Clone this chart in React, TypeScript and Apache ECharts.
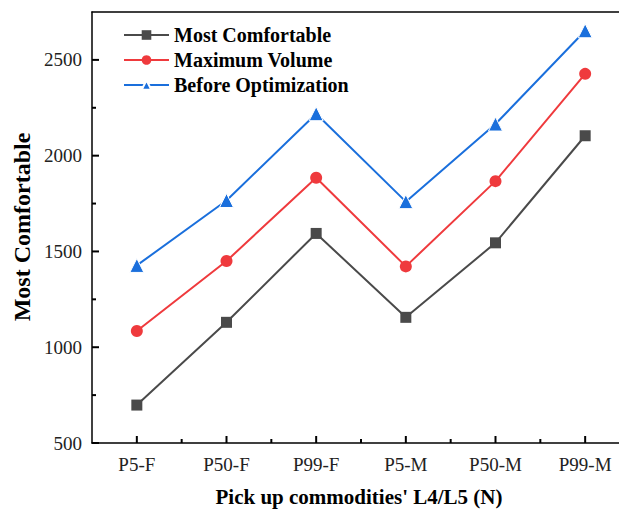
import React, { useEffect, useRef } from "react";
import * as echarts from "echarts";

const categories = ["P5-F", "P50-F", "P99-F", "P5-M", "P50-M", "P99-M"];
const mostComfortable = [698, 1130, 1594, 1156, 1545, 2104];
const maximumVolume = [1085, 1450, 1885, 1422, 1867, 2427];
const beforeOptimization = [1427, 1766, 2219, 1760, 2165, 2652];
const seriesNames = ["Most Comfortable", "Maximum Volume", "Before Optimization"];
const xTitle = "Pick up commodities' L4/L5 (N)";
const yTitle = "Most Comfortable";
const yMajorTicks = [500, 1000, 1500, 2000, 2500];
const yMinorTicks = [750, 1250, 1750, 2250];
const xMajorTicks = [0, 1, 2, 3, 4, 5];
const xBoundaryTicks = [1, 2, 3, 4, 5];

const FONT = "'Liberation Serif', 'Times New Roman', serif";

export default function App() {
  const ref = useRef<HTMLDivElement>(null);
  useEffect(() => {
    document.body.style.margin = "0";
    if (!ref.current) return;
    const chart = echarts.init(ref.current, undefined, { renderer: "svg" });
    const tickStyle = { stroke: "#000", lineWidth: 2 };
    chart.setOption({
      animation: false,
      grid: { left: 92, top: 12, right: 0, bottom: 71 },
      legend: {
        orient: "vertical",
        left: 118,
        top: 20,
        itemWidth: 45,
        itemHeight: 12,
        itemGap: 5,
        textStyle: { fontFamily: FONT, fontWeight: "bold", fontSize: 20, lineHeight: 20, color: "#000" },
        data: seriesNames,
      },
      graphic: [
        {
          type: "text",
          x: 22,
          y: 227,
          rotation: Math.PI / 2,
          style: {
            text: yTitle,
            fontFamily: FONT,
            fontWeight: "bold",
            fontSize: 24,
            fill: "#000",
            textAlign: "center",
            textVerticalAlign: "middle",
          },
        },
        {
          type: "text",
          x: 359,
          y: 497,
          style: {
            text: xTitle,
            fontFamily: FONT,
            fontWeight: "bold",
            fontSize: 21,
            fill: "#000",
            textAlign: "center",
            textVerticalAlign: "middle",
          },
        },
      ],
      xAxis: [
        {
          type: "category",
          data: categories,
          axisLine: { show: true, lineStyle: { color: "#000", width: 1.5 } },
          axisTick: { show: false },
          axisLabel: { fontFamily: FONT, fontSize: 19, color: "#222", margin: 12 },
        },
        {
          type: "category",
          data: categories,
          position: "top",
          axisLine: { show: true, lineStyle: { color: "#000", width: 1.5 } },
          axisTick: { show: false },
          axisLabel: { show: false },
        },
      ],
      yAxis: [
        {
          type: "value",
          min: 500,
          max: 2750,
          interval: 500,
          axisLine: { show: true, lineStyle: { color: "#000", width: 1.5 } },
          axisTick: { show: false },
          axisLabel: {
            fontFamily: FONT,
            fontSize: 19,
            color: "#222",
            margin: 10,
            showMaxLabel: false,
            formatter: (v: number) => String(v),
          },
          splitLine: { lineStyle: { opacity: 0 } },
        },
      ],
      series: [
        {
          type: "line",
          name: seriesNames[0],
          data: mostComfortable,
          symbol: "rect",
          symbolSize: 11,
          itemStyle: { color: "#4a4a4a" },
          lineStyle: { width: 2, color: "#4a4a4a" },
        },
        {
          type: "line",
          name: seriesNames[1],
          data: maximumVolume,
          symbol: "circle",
          symbolSize: 12,
          itemStyle: { color: "#ef3a3d" },
          lineStyle: { width: 2, color: "#ef3a3d" },
        },
        {
          type: "line",
          name: seriesNames[2],
          data: beforeOptimization,
          symbol: "triangle",
          symbolSize: 14,
          itemStyle: { color: "#1a6fdc", borderColor: "#fff", borderWidth: 1 },
          lineStyle: { width: 2, color: "#1a6fdc" },
        },
        {
          type: "custom",
          name: "yTicks",
          silent: true,
          clip: false,
          z: 5,
          data: [
            ...yMajorTicks.map((v) => [0, v, 7]),
            ...yMinorTicks.map((v) => [0, v, 4]),
          ],
          renderItem: (params: any, api: any) => {
            const cs = params.coordSys;
            const y = api.coord([0, api.value(1)])[1];
            return {
              type: "line",
              shape: { x1: cs.x, y1: y, x2: cs.x + api.value(2), y2: y },
              style: tickStyle,
            };
          },
        },
        {
          type: "custom",
          name: "xTicks",
          silent: true,
          clip: false,
          z: 5,
          data: xMajorTicks.map((i) => [i, 500, 7]),
          renderItem: (params: any, api: any) => {
            const cs = params.coordSys;
            const x = api.coord([api.value(0), 500])[0];
            const yb = cs.y + cs.height;
            return {
              type: "line",
              shape: { x1: x, y1: yb, x2: x, y2: yb - api.value(2) },
              style: tickStyle,
            };
          },
        },
        {
          type: "custom",
          name: "xBoundaryTicks",
          silent: true,
          clip: false,
          z: 5,
          data: xBoundaryTicks.map((i) => [i, 500, 4]),
          renderItem: (params: any, api: any) => {
            const cs = params.coordSys;
            const k = api.value(0);
            const x = (api.coord([k - 1, 500])[0] + api.coord([k, 500])[0]) / 2;
            const yb = cs.y + cs.height;
            return {
              type: "line",
              shape: { x1: x, y1: yb, x2: x, y2: yb - api.value(2) },
              style: tickStyle,
            };
          },
        },
      ],
    });
    return () => chart.dispose();
  }, []);
  return (
    <div style={{ width: 619, height: 514, overflow: "hidden", background: "#fff" }}>
      <div ref={ref} style={{ width: 630, height: 514 }} />
    </div>
  );
}
